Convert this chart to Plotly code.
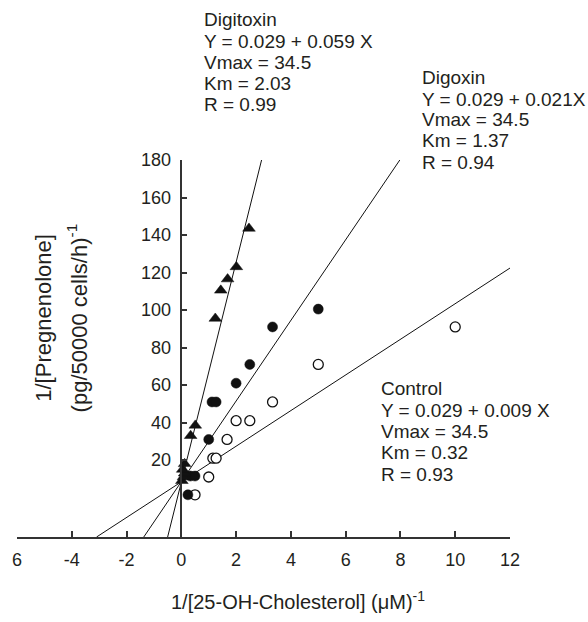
import plotly.graph_objects as go

# ---- data ----
control_x = [0.5, 1.0, 1.15, 1.27, 1.67, 2.0, 2.5, 3.33, 5.0, 10.0]
control_y = [1.5, 11, 21, 21, 31, 41, 41, 51, 71, 91]
digoxin_x = [0.24, 0.33, 0.5, 1.0, 1.12, 1.27, 2.0, 2.5, 3.33, 5.0]
digoxin_y = [1.5, 11.5, 11.5, 31, 51, 51, 61, 71, 91, 100.5]
digitoxin_x = [0.02, 0.08, 0.12, 0.05, 0.12, 0.34, 0.51, 1.24, 1.44, 1.69, 2.01, 2.47]
digitoxin_y = [9, 11, 13, 15, 18, 33, 38.5, 95.5, 110.5, 116.5, 123, 143.5]

fit_names = ["Control", "Digoxin", "Digitoxin"]
fit_intercept = [8.4, 8.5, 8.3]
fit_slope = [9.5, 21.5, 58.6]

x_ticks = [-6, -4, -2, 0, 2, 4, 6, 8, 10, 12]
x_ticktext = ["6", "-4", "-2", "0", "2", "4", "6", "8", "10", "12"]
y_ticks = [20, 40, 60, 80, 100, 120, 140, 160, 180]

labels = {
    "Digitoxin": ["Digitoxin", "Y = 0.029 + 0.059 X", "Vmax = 34.5", "Km = 2.03", "R = 0.99"],
    "Digoxin": ["Digoxin", "Y = 0.029 + 0.021X", "Vmax = 34.5", "Km = 1.37", "R = 0.94"],
    "Control": ["Control", "Y = 0.029 + 0.009 X", "Vmax = 34.5", "Km = 0.32", "R = 0.93"],
}

# ---- layout geometry ----
W, H = 588, 622
ML, MR, MT, MB = 12, 78, 160, 85
XR = [-6, 12]
YR = [-21, 180]
PW = W - ML - MR
PH = H - MT - MB

def px(xp):
    return (xp - ML) / PW

def py(yp):
    return (H - MB - yp) / PH

FONT = "Liberation Sans, Arial, Helvetica, sans-serif"
TXT = "#231f20"

fig = go.Figure()

# fit lines
for name, b, m in zip(fit_names, fit_intercept, fit_slope):
    x0 = (YR[0] - b) / m
    x1 = min(XR[1], (YR[1] - b) / m)
    fig.add_trace(go.Scatter(x=[x0, x1], y=[b + m * x0, b + m * x1], mode="lines",
                             line=dict(color="#111", width=1), showlegend=False,
                             hoverinfo="skip"))

fig.add_trace(go.Scatter(x=control_x, y=control_y, mode="markers", name="Control",
                         marker=dict(symbol="circle", size=10, color="white",
                                     line=dict(color="#111", width=1.3))))
fig.add_trace(go.Scatter(x=digoxin_x, y=digoxin_y, mode="markers", name="Digoxin",
                         marker=dict(symbol="circle", size=10, color="#111",
                                     line=dict(color="#111", width=0.5))))
fig.add_trace(go.Scatter(x=digitoxin_x, y=digitoxin_y, mode="markers", name="Digitoxin",
                         marker=dict(symbol="triangle-up", size=11, color="#111",
                                     line=dict(color="#111", width=0.5))))

ann = []
blocks = {
    "Digitoxin": (198.7, [19, 41.7, 62.5, 83.7, 104.7]),
    "Digoxin": (418.7, [77.5, 99, 119.7, 140.3, 162]),
    "Control": (377.7, [388.7, 410, 431.3, 452.7, 474.2]),
}
for key, (lx, ys) in blocks.items():
    for t, yy in zip(labels[key], ys):
        ann.append(dict(x=px(lx), y=py(yy), xref="paper", yref="paper", text=t,
                        showarrow=False, xanchor="left", yanchor="middle",
                        font=dict(family=FONT, size=19, color=TXT)))

ann.append(dict(x=px(296), y=py(600), xref="paper", yref="paper",
                text="1/[25-OH-Cholesterol] (\u03bcM)<sup>-1</sup>", showarrow=False,
                xanchor="center", yanchor="middle",
                font=dict(family=FONT, size=20, color=TXT)))
ann.append(dict(x=px(38), y=py(318), xref="paper", yref="paper",
                text="1/[Pregnenolone]", showarrow=False, textangle=-90,
                xanchor="center", yanchor="middle",
                font=dict(family=FONT, size=22, color=TXT)))
ann.append(dict(x=px(73), y=py(318), xref="paper", yref="paper",
                text="(pg/50000 cells/h)<sup>-1</sup>", showarrow=False, textangle=-90,
                xanchor="center", yanchor="middle",
                font=dict(family=FONT, size=22, color=TXT)))

fig.update_layout(
    width=W, height=H, margin=dict(l=ML, r=MR, t=MT, b=MB, pad=0),
    paper_bgcolor="white", plot_bgcolor="white", showlegend=False,
    annotations=ann,
    xaxis=dict(range=XR, tickvals=x_ticks, ticktext=x_ticktext, ticks="inside",
               ticklen=6, tickwidth=1.5, tickcolor="#333", showline=True,
               linecolor="#333", linewidth=1.5, showgrid=False, zeroline=False,
               tickfont=dict(family=FONT, size=18, color=TXT), ticklabelstandoff=6,
               anchor="y"),
    yaxis=dict(range=YR, tickvals=y_ticks, ticks="inside", ticklen=5, tickwidth=1.5,
               tickcolor="#333", showline=True, linecolor="#333", linewidth=1.5,
               showgrid=False, zeroline=False, anchor="free",
               position=(0 - XR[0]) / (XR[1] - XR[0]),
               tickfont=dict(family=FONT, size=18, color=TXT), ticklabelstandoff=6),
)

fig.write_html("out.html", config={"displayModeBar": False},
               post_script="document.body.style.margin='0';")
